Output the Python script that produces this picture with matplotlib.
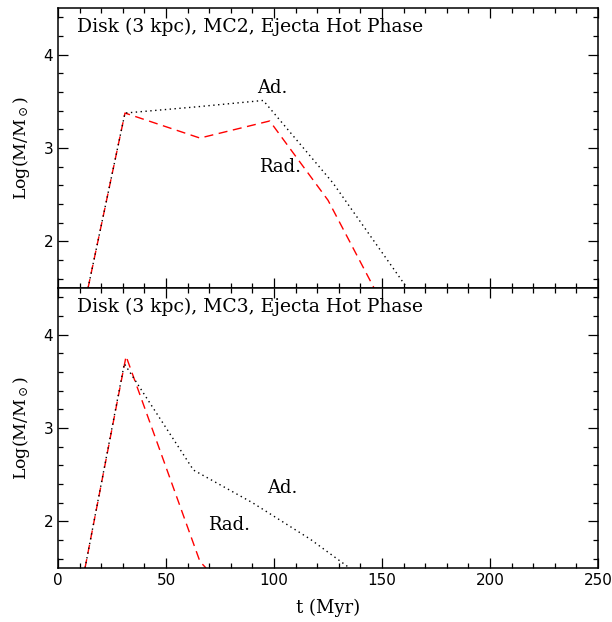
import matplotlib
matplotlib.use("Agg")
import matplotlib.pyplot as plt
from matplotlib.ticker import MultipleLocator

plt.rcParams['mathtext.fontset'] = 'dejavuserif'

# MC2 panel
t_ad_mc2 = [13.9, 31.0, 63.4, 95.0, 127.3, 161.6]
m_ad_mc2 = [1.50, 3.375, 3.44, 3.51, 2.625, 1.50]
t_rad_mc2 = [13.9, 31.0, 65.7, 98.0, 125.0, 146.3]
m_rad_mc2 = [1.50, 3.375, 3.107, 3.29, 2.44, 1.50]

# MC3 panel
t_ad_mc3 = [12.5, 30.7, 62.7, 90.0, 116.7, 135.0]
m_ad_mc3 = [1.50, 3.69, 2.55, 2.20, 1.81, 1.50]
t_rad_mc3 = [12.5, 31.5, 65.7, 68.5]
m_rad_mc3 = [1.50, 3.77, 1.57, 1.50]

titles = ['Disk (3 kpc), MC2, Ejecta Hot Phase', 'Disk (3 kpc), MC3, Ejecta Hot Phase']
ad_pos = [(99, 3.64), (104, 2.36)]
rad_pos = [(103, 2.80), (79, 1.96)]

fig = plt.figure(figsize=(6.12, 6.22), dpi=100)
ax1 = fig.add_axes([0.0948, 0.537, 0.8824, 0.450])
ax2 = fig.add_axes([0.0948, 0.0868, 0.8824, 0.450])

data = [(t_ad_mc2, m_ad_mc2, t_rad_mc2, m_rad_mc2),
        (t_ad_mc3, m_ad_mc3, t_rad_mc3, m_rad_mc3)]

for i, ax in enumerate([ax1, ax2]):
    ta, ma, tr, mr = data[i]
    ax.plot(tr, mr, color='red', lw=1.0, dashes=(6.5, 4))
    ax.plot(ta, ma, color='black', lw=1.0, dashes=(1, 2.5))
    ax.set_xlim(0, 250)
    ax.set_ylim(1.5, 4.5)
    ax.xaxis.set_major_locator(MultipleLocator(50))
    ax.xaxis.set_minor_locator(MultipleLocator(10))
    ax.yaxis.set_major_locator(MultipleLocator(1))
    ax.yaxis.set_minor_locator(MultipleLocator(0.2))
    ax.tick_params(which='both', direction='in', top=True, right=True, labelsize=11)
    ax.tick_params(which='major', length=7.2, width=0.9)
    ax.tick_params(which='minor', length=3.6, width=0.9)
    for s in ax.spines.values():
        s.set_linewidth(1.1)
    ax.text(0.036, 0.965, titles[i], transform=ax.transAxes, ha='left', va='top',
            family='DejaVu Serif', fontsize=13.5)
    ax.text(ad_pos[i][0], ad_pos[i][1], 'Ad.', family='DejaVu Serif', fontsize=13,
            ha='center', va='center')
    ax.text(rad_pos[i][0], rad_pos[i][1], 'Rad.', family='DejaVu Serif', fontsize=13,
            ha='center', va='center')
    ax.set_ylabel(r'Log(M/M$_\odot$)', family='DejaVu Serif', fontsize=12.5, labelpad=8)

ax1.tick_params(labelbottom=False)
ax2.set_xlabel('t (Myr)', family='DejaVu Serif', fontsize=13, labelpad=8)

fig.savefig('out.png', dpi=100)
